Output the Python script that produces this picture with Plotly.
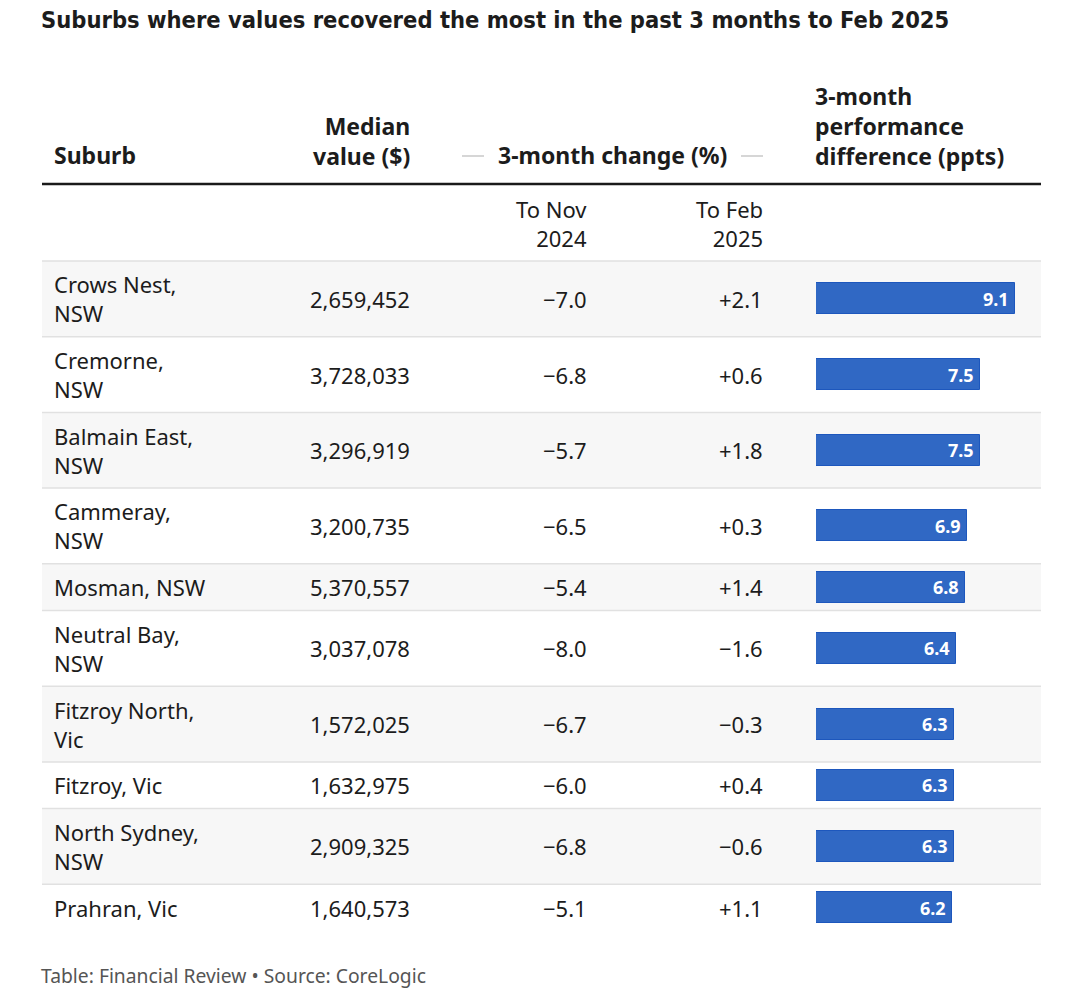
import plotly.graph_objects as go

# ---- data ----
suburbs = ["Crows Nest,<br>NSW", "Cremorne,<br>NSW", "Balmain East,<br>NSW", "Cammeray,<br>NSW",
           "Mosman, NSW", "Neutral Bay,<br>NSW", "Fitzroy North,<br>Vic", "Fitzroy, Vic",
           "North Sydney,<br>NSW", "Prahran, Vic"]
median_values = [2659452, 3728033, 3296919, 3200735, 5370557, 3037078, 1572025, 1632975, 2909325, 1640573]
change_nov = [-7.0, -6.8, -5.7, -6.5, -5.4, -8.0, -6.7, -6.0, -6.8, -5.1]
change_feb = [2.1, 0.6, 1.8, 0.3, 1.4, -1.6, -0.3, 0.4, -0.6, 1.1]
perf_diff = [9.1, 7.5, 7.5, 6.9, 6.8, 6.4, 6.3, 6.3, 6.3, 6.2]

title_text = "Suburbs where values recovered the most in the past 3 months to Feb 2025"
footer_text = "Table: Financial Review \u2022 Source: CoreLogic"

# ---- layout constants (pixels) ----
W, H = 1080, 999
LEFT, RIGHT = 42, 1041
ROWS_TOP = 261
H2, H1 = 75.7, 46.7
BAR_X0 = 816
PX_PER_UNIT = 21.87
XMAX = 10

FONT = "Noto Sans, Open Sans, sans-serif"
TITLE_FONT = "DejaVu Sans Condensed, Noto Sans, sans-serif"
DARK = "#1c1c1c"


def fmt(v, sign=False):
    s = f"{v:+.1f}" if sign else f"{v:.1f}"
    return s.replace("-", "\u2212")


# row geometry
tops, centers, bottoms = [], [], []
y = ROWS_TOP
for s in suburbs:
    h = H2 if "<br>" in s else H1
    tops.append(y)
    centers.append(y + h / 2)
    bottoms.append(y + h)
    y += h

fig = go.Figure()

fig.add_trace(go.Bar(
    x=perf_diff, y=centers, orientation="h", width=31,
    marker=dict(color="#3068c4", line=dict(color="#1d57bd", width=1)),
    xaxis="x2", yaxis="y", hoverinfo="skip", showlegend=False,
))

shapes = []
annotations = []

# row shading + separators
for i in range(len(suburbs)):
    if i % 2 == 0:
        shapes.append(dict(type="rect", xref="x", yref="y", x0=LEFT, x1=RIGHT, y0=tops[i], y1=bottoms[i],
                           fillcolor="#f7f7f7", line=dict(width=0), layer="below"))
    shapes.append(dict(type="line", xref="x", yref="y", x0=LEFT, x1=RIGHT, y0=tops[i], y1=tops[i],
                       line=dict(color="#e1e1e1", width=1.5), layer="below"))

# thick header rule
shapes.append(dict(type="line", xref="x", yref="y", x0=LEFT, x1=RIGHT, y0=184, y1=184,
                   line=dict(color="#1a1a1a", width=2.6)))
# dashes around group header
for x0, x1 in [(462, 484), (741, 763)]:
    shapes.append(dict(type="line", xref="x", yref="y", x0=x0, x1=x1, y0=156, y1=156,
                       line=dict(color="#c8c8c8", width=1.5)))


def txt(x, y, text, size=22, color=DARK, xanchor="left", align=None, family=FONT, xref="x", xshift=None):
    if xshift is None:
        xshift = {"left": -3, "right": 2, "center": 0}[xanchor]
    annotations.append(dict(x=x, y=y, xref=xref, yref="y", text=text, showarrow=False,
                            xanchor=xanchor, yanchor="middle", align=align or xanchor,
                            xshift=xshift,
                            font=dict(family=family, size=size, color=color)))


# title
txt(42, 20, "<b>" + title_text + "</b>", size=23.5, family=TITLE_FONT)
# headers
HS = 23
txt(55, 155, "<b>Suburb</b>", size=HS)
txt(410, 140.5, "<b>Median<br>value ($)</b>", xanchor="right", size=HS)
txt(612.5, 155, "<b>3-month change (%)</b>", xanchor="center", size=HS)
txt(816, 126, "<b>3-month<br>performance<br>difference (ppts)</b>", size=HS)
txt(587, 223.5, "To Nov<br>2024", xanchor="right")
txt(763, 223.5, "To Feb<br>2025", xanchor="right")

# body
for i in range(len(suburbs)):
    c = centers[i]
    txt(55, c, suburbs[i])
    txt(410, c, f"{median_values[i]:,}", xanchor="right")
    txt(587, c, fmt(change_nov[i]), xanchor="right")
    txt(763, c, fmt(change_feb[i], sign=True), xanchor="right")
    txt(perf_diff[i], c, f"<b>{perf_diff[i]:.1f}</b>", size=18, color="white",
        xanchor="right", xref="x2", xshift=-4)

# footer
txt(42, 975, footer_text, size=19.3, color="#555555")

fig.update_layout(
    width=W, height=H, margin=dict(l=0, r=0, t=0, b=0),
    paper_bgcolor="white", plot_bgcolor="rgba(0,0,0,0)",
    xaxis=dict(range=[0, W], domain=[0, 1], visible=False, fixedrange=True),
    xaxis2=dict(range=[0, XMAX], domain=[BAR_X0 / W, (BAR_X0 + XMAX * PX_PER_UNIT) / W],
                anchor="y", visible=False, fixedrange=True),
    yaxis=dict(range=[H, 0], domain=[0, 1], visible=False, fixedrange=True),
    shapes=shapes, annotations=annotations, bargap=0,
)

fig.write_html("out.html", config={"displayModeBar": False},
               post_script="document.body.style.margin='0';document.body.style.overflow='hidden';")
